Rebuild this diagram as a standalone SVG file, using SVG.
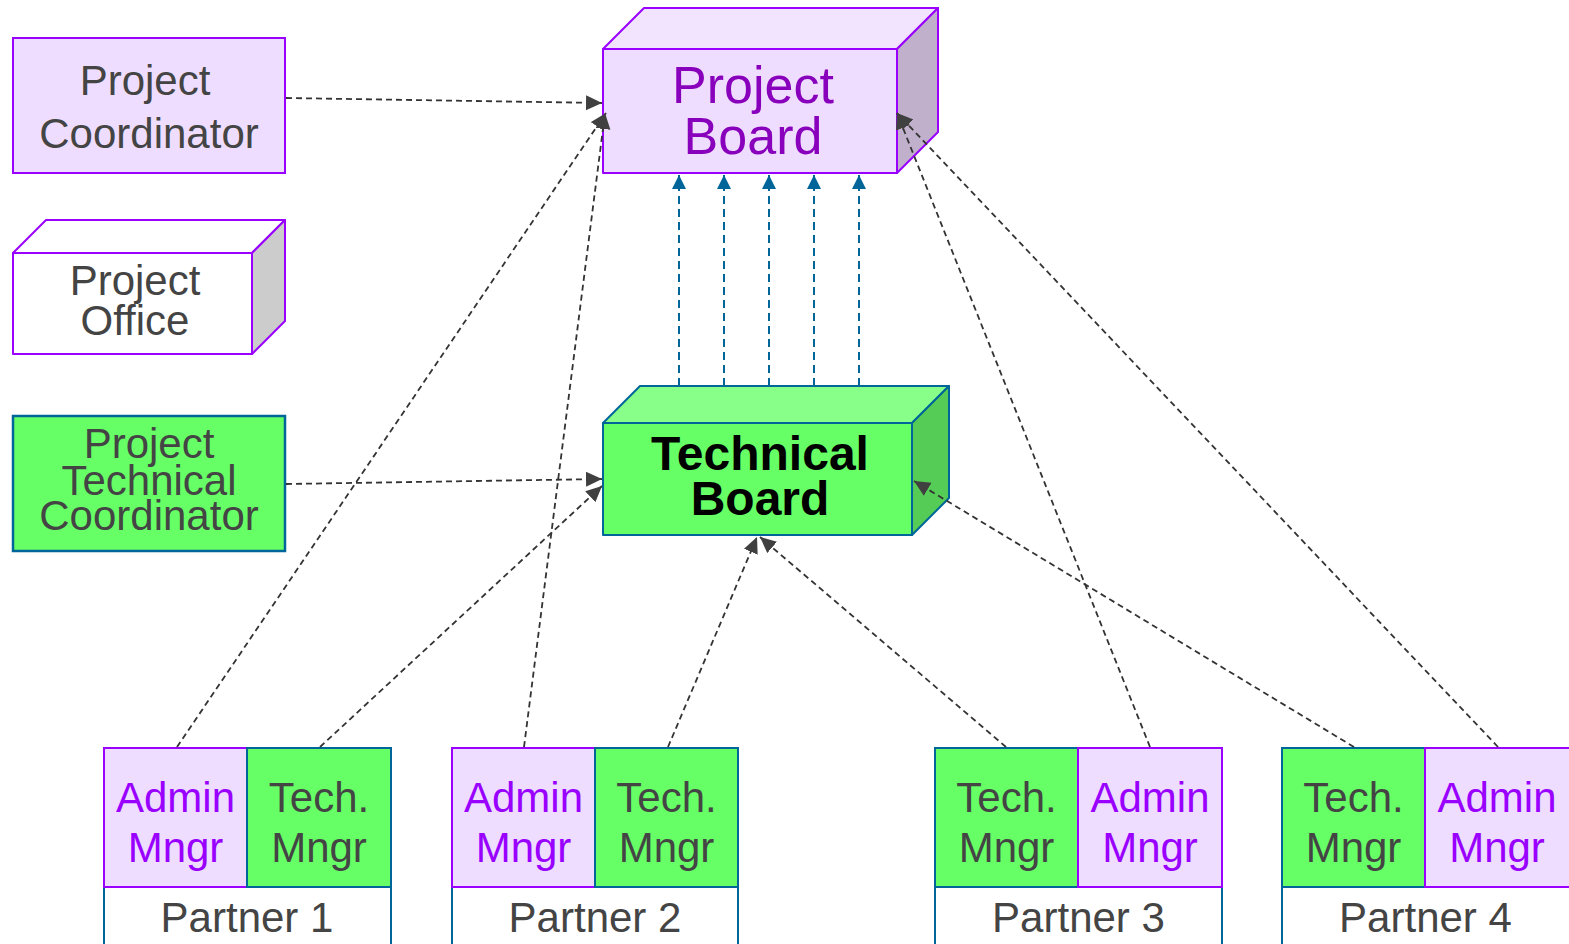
<svg xmlns="http://www.w3.org/2000/svg" width="1569" height="944" viewBox="0 0 1569 944">
  <style>
    .lbl { font-family: "Liberation Sans", Arial, sans-serif; text-anchor: middle; }
    .grey { fill: #444444; font-size: 42px; }
    .purple { fill: #9900ff; font-size: 42px; }
    .pb { fill: #8800bb; font-size: 52px; }
    .tb { fill: #000000; font-size: 48px; font-weight: bold; }
    .adminBox { fill: #eeddfe; stroke: #9900ff; stroke-width: 2; }
    .techBox { fill: #66ff66; stroke: #006699; stroke-width: 2; }
    .plainBox { fill: #ffffff; stroke: #006699; stroke-width: 2; }
    .link { fill: none; stroke: #333333; stroke-width: 1.8; stroke-dasharray: 6 4; marker-end: url(#headDark); }
    .vote { fill: none; stroke: #006699; stroke-width: 2; stroke-dasharray: 8 5; marker-end: url(#headBlue); }
  </style>
  <defs>
    <marker id="headDark" markerUnits="userSpaceOnUse" markerWidth="18" markerHeight="16" refX="16" refY="7.5" orient="auto">
      <path d="M0,0 L16,7.5 L0,15 z" fill="#404040"/>
    </marker>
    <marker id="headBlue" markerUnits="userSpaceOnUse" markerWidth="16" markerHeight="16" refX="14" refY="7" orient="auto">
      <path d="M0,0 L14,7 L0,14 z" fill="#006699"/>
    </marker>
  </defs>

  <rect width="1569" height="944" fill="#ffffff"/>

  <!-- Project Coordinator -->
  <g id="project-coordinator">
    <rect class="adminBox" x="13" y="38" width="272" height="135"/>
    <text class="lbl grey" x="145" y="95">Project</text>
    <text class="lbl grey" x="149" y="148">Coordinator</text>
  </g>

  <!-- Project Office (3D box) -->
  <g id="project-office" stroke="#9900ff" stroke-width="2" stroke-linejoin="round">
    <polygon points="13,253 46,220 285,220 252,253" fill="#ffffff"/>
    <polygon points="252,253 285,220 285,321 252,354" fill="#cccccc"/>
    <rect x="13" y="253" width="239" height="101" fill="#ffffff"/>
    <text class="lbl grey" x="135" y="295" stroke="none">Project</text>
    <text class="lbl grey" x="135" y="335" stroke="none">Office</text>
  </g>

  <!-- Project Technical Coordinator -->
  <g id="project-technical-coordinator">
    <rect x="13" y="416" width="272" height="135" fill="#66ff66" stroke="#006699" stroke-width="2.5"/>
    <text class="lbl grey" x="149" y="458">Project</text>
    <text class="lbl grey" x="149" y="495">Technical</text>
    <text class="lbl grey" x="149" y="530">Coordinator</text>
  </g>

  <!-- Project Board (3D box) -->
  <g id="project-board" stroke="#9900ff" stroke-width="2" stroke-linejoin="round">
    <polygon points="603,49 644,8 938,8 897,49" fill="#f2e4fe"/>
    <polygon points="897,49 938,8 938,132 897,173" fill="#c0b0cc"/>
    <rect x="603" y="49" width="294" height="124" fill="#eeddfe"/>
    <text class="lbl pb" x="753" y="103" stroke="none">Project</text>
    <text class="lbl pb" x="753" y="154" stroke="none">Board</text>
  </g>

  <!-- Technical Board (3D box) -->
  <g id="technical-board" stroke="#006699" stroke-width="2" stroke-linejoin="round">
    <polygon points="603,423 640,386 949,386 912,423" fill="#88ff88"/>
    <polygon points="912,423 949,386 949,498 912,535" fill="#55cc55"/>
    <rect x="603" y="423" width="309" height="112" fill="#66ff66"/>
    <text class="lbl tb" x="760" y="470" stroke="none">Technical</text>
    <text class="lbl tb" x="760" y="515" stroke="none">Board</text>
  </g>

  <!-- Partner 1 -->
  <g id="partner-1">
    <rect class="plainBox" x="104" y="887" width="287" height="70"/>
    <rect class="adminBox" x="104" y="748" width="143" height="139"/>
    <rect class="techBox" x="247" y="748" width="144" height="139"/>
    <text class="lbl purple" x="175.5" y="812">Admin</text>
    <text class="lbl purple" x="175.5" y="862">Mngr</text>
    <text class="lbl grey" x="319" y="812">Tech.</text>
    <text class="lbl grey" x="319" y="862">Mngr</text>
    <text class="lbl grey" x="247" y="932">Partner 1</text>
  </g>

  <!-- Partner 2 -->
  <g id="partner-2">
    <rect class="plainBox" x="452" y="887" width="286" height="70"/>
    <rect class="adminBox" x="452" y="748" width="143" height="139"/>
    <rect class="techBox" x="595" y="748" width="143" height="139"/>
    <text class="lbl purple" x="523.5" y="812">Admin</text>
    <text class="lbl purple" x="523.5" y="862">Mngr</text>
    <text class="lbl grey" x="666.5" y="812">Tech.</text>
    <text class="lbl grey" x="666.5" y="862">Mngr</text>
    <text class="lbl grey" x="595" y="932">Partner 2</text>
  </g>

  <!-- Partner 3 -->
  <g id="partner-3">
    <rect class="plainBox" x="935" y="887" width="287" height="70"/>
    <rect class="techBox" x="935" y="748" width="143" height="139"/>
    <rect class="adminBox" x="1078" y="748" width="144" height="139"/>
    <text class="lbl grey" x="1006.5" y="812">Tech.</text>
    <text class="lbl grey" x="1006.5" y="862">Mngr</text>
    <text class="lbl purple" x="1150" y="812">Admin</text>
    <text class="lbl purple" x="1150" y="862">Mngr</text>
    <text class="lbl grey" x="1078.5" y="932">Partner 3</text>
  </g>

  <!-- Partner 4 -->
  <g id="partner-4">
    <rect class="plainBox" x="1282" y="887" width="288" height="70"/>
    <rect class="techBox" x="1282" y="748" width="143" height="139"/>
    <rect class="adminBox" x="1425" y="748" width="145" height="139"/>
    <text class="lbl grey" x="1353.5" y="812">Tech.</text>
    <text class="lbl grey" x="1353.5" y="862">Mngr</text>
    <text class="lbl purple" x="1497" y="812">Admin</text>
    <text class="lbl purple" x="1497" y="862">Mngr</text>
    <text class="lbl grey" x="1425.5" y="932">Partner 4</text>
  </g>

  <!-- Connectors -->
  <g id="connectors">
    <!-- Technical Board delegates to Project Board -->
    <line class="vote" x1="679" y1="386" x2="679" y2="175"/>
    <line class="vote" x1="724" y1="386" x2="724" y2="175"/>
    <line class="vote" x1="769" y1="386" x2="769" y2="175"/>
    <line class="vote" x1="814" y1="386" x2="814" y2="175"/>
    <line class="vote" x1="859" y1="386" x2="859" y2="175"/>

    <!-- coordinators -->
    <line class="link" x1="286" y1="98" x2="602" y2="103"/>
    <line class="link" x1="286" y1="484" x2="602" y2="479"/>

    <!-- admin managers to Project Board -->
    <line class="link" x1="177" y1="747" x2="606" y2="113"/>
    <line class="link" x1="524" y1="747" x2="605" y2="113"/>
    <line class="link" x1="1150" y1="747" x2="897" y2="113"/>
    <line class="link" x1="1498" y1="747" x2="897" y2="113"/>

    <!-- technical managers to Technical Board -->
    <line class="link" x1="320" y1="747" x2="602" y2="486"/>
    <line class="link" x1="668" y1="747" x2="757" y2="537"/>
    <line class="link" x1="1006" y1="747" x2="760" y2="537"/>
    <line class="link" x1="1354" y1="747" x2="914" y2="481"/>
  </g>
</svg>
